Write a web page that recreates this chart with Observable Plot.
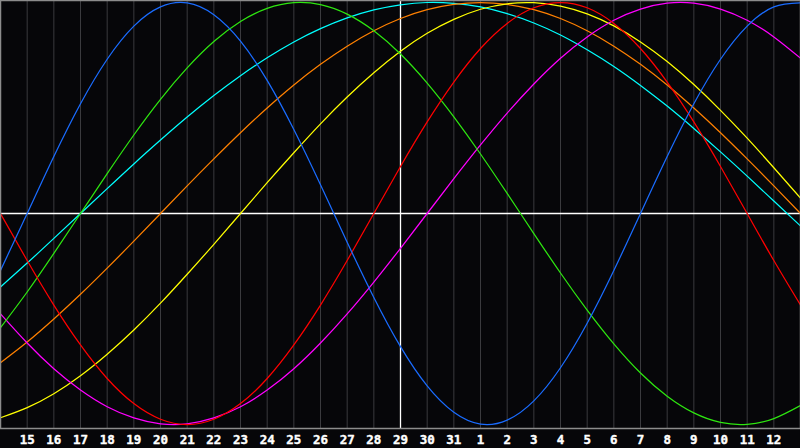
<!DOCTYPE html>
<html>
<head>
<meta charset="utf-8">
<script src="https://cdn.jsdelivr.net/npm/d3@7"></script>
<script src="https://cdn.jsdelivr.net/npm/@observablehq/plot@0.6"></script>
<style>
  html, body { margin: 0; padding: 0; background: #060609; }
  #chart { width: 800px; height: 448px; }
</style>
</head>
<body>
<div id="chart"></div>
<script>
// Day index 0..30 (index 0 = the 14th, left edge; index 30 = the 13th, right edge)
const dayIndex = d3.range(0, 31);
// Tick labels for day indexes 1..29
const tickLabels = ["15","16","17","18","19","20","21","22","23","24","25","26","27","28","29","30","31",
                    "1","2","3","4","5","6","7","8","9","10","11","12"];
const todayIndex = 15; // day 29

// Values, one per day index 0..30 (range -1..1)
const physical = [-0.270,0,0.270,0.520,0.731,0.888,0.979,0.998,0.942,0.817,0.631,0.398,0.136,-0.136,-0.398,-0.631,-0.817,-0.942,-0.998,-0.979,-0.888,-0.731,-0.520,-0.270,0,0.270,0.520,0.731,0.888,0.979,0.998];
const emotional = [0,-0.223,-0.434,-0.623,-0.782,-0.901,-0.975,-1,-0.975,-0.901,-0.782,-0.623,-0.434,-0.223,0,0.223,0.434,0.623,0.782,0.901,0.975,1,0.975,0.901,0.782,0.623,0.434,0.223,0,-0.223,-0.434];
const intellectual = [-0.541,-0.372,-0.189,0,0.189,0.372,0.541,0.690,0.815,0.910,0.972,0.999,0.990,0.945,0.866,0.756,0.618,0.458,0.282,0.095,-0.095,-0.282,-0.458,-0.618,-0.756,-0.866,-0.945,-0.990,-0.999,-0.972,-0.910];
const intuitive = [-0.476,-0.614,-0.736,-0.837,-0.916,-0.969,-0.997,-0.997,-0.969,-0.916,-0.837,-0.736,-0.614,-0.476,-0.325,-0.165,0,0.165,0.325,0.476,0.614,0.736,0.837,0.916,0.969,0.997,0.997,0.969,0.916,0.837,0.736];
const aesthetic = [-0.968,-0.920,-0.854,-0.769,-0.667,-0.552,-0.425,-0.288,-0.146,0,0.146,0.288,0.425,0.552,0.667,0.769,0.854,0.920,0.968,0.994,0.999,0.983,0.946,0.889,0.813,0.720,0.611,0.489,0.357,0.217,0.073];
const awareness = [-0.707,-0.609,-0.500,-0.383,-0.259,-0.131,0,0.131,0.259,0.383,0.500,0.609,0.707,0.793,0.866,0.924,0.966,0.991,1,0.991,0.966,0.924,0.866,0.793,0.707,0.609,0.500,0.383,0.259,0.131,0];
const spiritual = [-0.348,-0.235,-0.118,0,0.118,0.235,0.348,0.457,0.559,0.653,0.738,0.813,0.876,0.927,0.965,0.989,1.000,0.996,0.979,0.947,0.903,0.846,0.776,0.697,0.607,0.509,0.403,0.292,0.177,0.059,-0.059];

const seriesNames = ["spiritual","awareness","aesthetic","intuitive","intellectual","emotional","physical"];
const seriesValues = [spiritual, awareness, aesthetic, intuitive, intellectual, emotional, physical];
const seriesColors = ["#00ffff","#ff8000","#ffff00","#ff00ff","#2ee610","#ff0000","#1a6cff"];

const rows = [];
seriesNames.forEach((name, s) => {
  seriesValues[s].forEach((v, i) => rows.push({series: name, t: dayIndex[i], v}));
});

const ticks = tickLabels.map((lab, i) => ({t: i + 1, label: lab}));

const chart = Plot.plot({
  width: 800,
  height: 448,
  marginTop: 0,
  marginBottom: 20,
  marginLeft: 0,
  marginRight: 0,
  style: {background: "#060609", overflow: "visible"},
  x: {domain: [0, 30], range: [0, 800], axis: null},
  y: {domain: [-1, 1], range: [424, 2], axis: null},
  color: {domain: seriesNames, range: seriesColors},
  marks: [
    Plot.ruleX(ticks, {x: "t", stroke: "#3a3a3e", strokeWidth: 1}),
    Plot.ruleY([0], {stroke: "#ffffff", strokeWidth: 1.3}),
    Plot.ruleX([todayIndex], {stroke: "#ffffff", strokeWidth: 1.3}),
    Plot.line(rows, {x: "t", y: "v", z: "series", stroke: "series", curve: "natural", strokeWidth: 1.25}),
    Plot.frame({stroke: "#8c8c8c", strokeWidth: 1.5}),
    Plot.text(ticks, {x: "t", text: "label", frameAnchor: "bottom", dy: 11, lineAnchor: "middle",
      fill: "#ffffff", stroke: "#ffffff", strokeWidth: 0.4, fontWeight: "bold", fontSize: 12.5,
      fontFamily: "DejaVu Sans Mono"})
  ]
});
document.getElementById("chart").appendChild(chart);
</script>
</body>
</html>
